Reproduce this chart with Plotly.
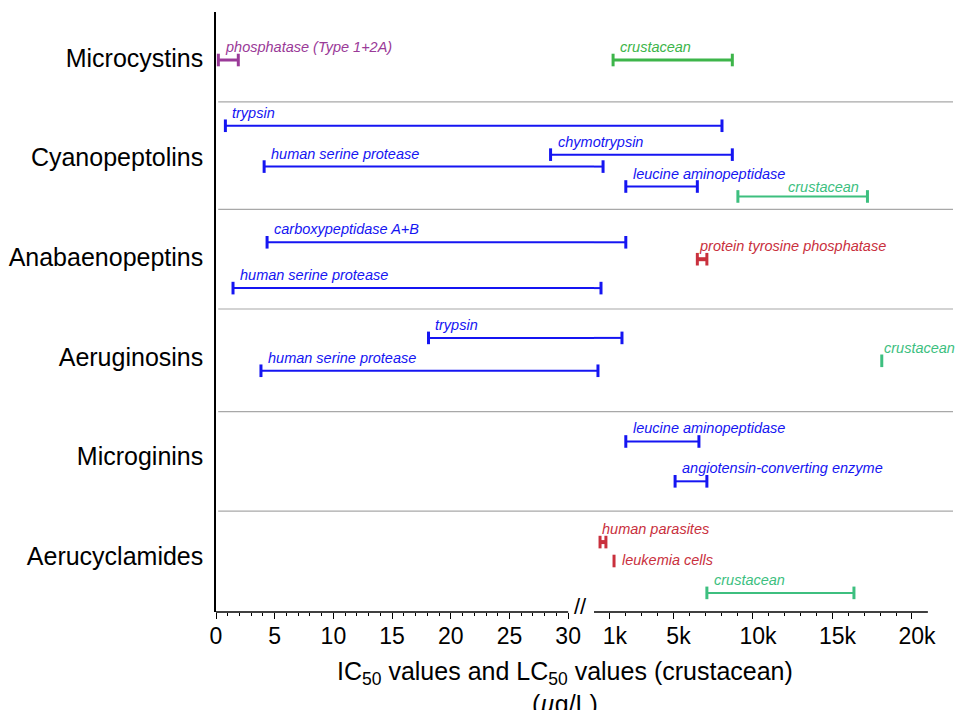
import plotly.graph_objects as go

# ---------------- data ----------------
rows = ["Microcystins", "Cyanopeptolins", "Anabaenopeptins",
        "Aeruginosins", "Microginins", "Aerucyclamides"]

bar_row = ["Microcystins", "Microcystins",
           "Cyanopeptolins", "Cyanopeptolins", "Cyanopeptolins", "Cyanopeptolins", "Cyanopeptolins",
           "Anabaenopeptins", "Anabaenopeptins", "Anabaenopeptins",
           "Aeruginosins", "Aeruginosins", "Aeruginosins",
           "Microginins", "Microginins",
           "Aerucyclamides", "Aerucyclamides", "Aerucyclamides"]
bar_target = ["phosphatase (Type 1+2A)", "crustacean",
              "trypsin", "chymotrypsin", "human serine protease", "leucine aminopeptidase", "crustacean",
              "carboxypeptidase A+B", "protein tyrosine phosphatase", "human serine protease",
              "trypsin", "human serine protease", "crustacean",
              "leucine aminopeptidase", "angiotensin-converting enzyme",
              "human parasites", "leukemia cells", "crustacean"]
# IC50 / LC50 ranges in µg/L
bar_low = [0.2, 1200,
           0.8, 28.5, 4.1, 2000, 9050,
           4.35, 6500, 1.45,
           18.1, 3.83, 18100,
           2000, 5100,
           380, 1260, 7100]
bar_high = [1.9, 8700,
            8050, 8700, 570, 6500, 17200,
            2000, 7100, 440,
            1760, 250, 18100,
            6600, 7100,
            750, 1260, 16350]
bar_kind = ["phosphatase", "crustacean_mc",
            "enzyme", "enzyme", "enzyme", "enzyme", "crustacean",
            "enzyme", "cells", "enzyme",
            "enzyme", "enzyme", "crustacean",
            "enzyme", "enzyme",
            "cells", "cells", "crustacean"]

left_ticks = [0, 5, 10, 15, 20, 25, 30]
right_ticks = [1000, 5000, 10000, 15000, 20000]
right_ticktext = ["1k", "5k", "10k", "15k", "20k"]

# ---------------- layout / style ----------------
lane_offsets = [0.02, 0.02,
                -0.32, -0.03, 0.09, 0.29, 0.39,
                -0.15, 0.02, 0.31,
                -0.19, 0.14, 0.04,
                -0.15, 0.25,
                -0.14, 0.05, 0.37]
label_mode = ["start", "start",
              "start", "start", "start", "start", "end",
              "start", "start0", "start",
              "start", "start", "start0",
              "start", "start",
              "start0", "right", "start"]
separators = [0.44, 1.52, 2.52, 3.55, 4.55]

colors = {"phosphatase": "#9A3A98", "crustacean_mc": "#3DB54A",
          "crustacean": "#3DBF7F", "enzyme": "#1515F2", "cells": "#C9303D"}
widths = {"phosphatase": 3, "crustacean_mc": 3, "crustacean": 2,
          "enzyme": 2, "cells": 4}

LEFT_MAX = 32.2      # left axis range end (break gap)
BREAK = 30           # values above this go to right axis
RIGHT_MAX = 22580
FONT = "Liberation Sans"

fig = go.Figure()


def axis_of(v):
    return "x" if v <= BREAK else "x2"


annotations = []
for i in range(len(bar_target)):
    lo, hi = bar_low[i], bar_high[i]
    kind = bar_kind[i]
    col = colors[kind]
    y = rows.index(bar_row[i]) + lane_offsets[i]
    parts = []
    if hi <= BREAK:
        parts.append(("x", lo, hi))
    elif lo > BREAK:
        parts.append(("x2", lo, hi))
    else:
        parts.append(("x", lo, LEFT_MAX))
        parts.append(("x2", 0, hi))
    for ax, a, b in parts:
        if a != b:
            fig.add_trace(go.Scatter(x=[a, b], y=[y, y], mode="lines", xaxis=ax, yaxis="y",
                                     line=dict(color=col, width=widths[kind]),
                                     showlegend=False, hoverinfo="skip"))
    for v in ([lo] if lo == hi else [lo, hi]):
        fig.add_trace(go.Scatter(x=[v], y=[y], mode="markers", xaxis=axis_of(v), yaxis="y",
                                 marker=dict(symbol="line-ns", size=9,
                                             line=dict(color=col, width=3)),
                                 showlegend=False, hoverinfo="skip"))
    mode = label_mode[i]
    ann = dict(text=bar_target[i], yref="y", y=y, showarrow=False,
               font=dict(family=FONT, size=14.5, color=col, style="italic"))
    if mode in ("start", "start0"):
        ann.update(x=lo, xref=axis_of(lo), xanchor="left", yanchor="middle",
                   xshift=5 if mode == "start" else 0, yshift=13)
    elif mode == "end":
        ann.update(x=hi, xref=axis_of(hi), xanchor="right", yanchor="middle",
                   xshift=-6, yshift=9)
    else:
        ann.update(x=hi, xref=axis_of(hi), xanchor="left", yanchor="middle",
                   xshift=6, yshift=1)
    annotations.append(ann)

# axis title and break mark
annotations.append(dict(text="IC<sub>50</sub> values and LC<sub>50</sub> values (crustacean)<br>(<i>µ</i>g/L)",
                        xref="paper", yref="paper", x=0.4735, y=0, xanchor="center", yanchor="top",
                        yshift=-43, showarrow=False, font=dict(family=FONT, size=25, color="black")))
annotations.append(dict(text="//", xref="paper", yref="paper", x=0.4939, y=0, xanchor="center",
                        yanchor="middle", yshift=6, showarrow=False,
                        font=dict(family=FONT, size=22, color="black")))

shapes = []
for s in separators:
    shapes.append(dict(type="line", xref="paper", yref="y", x0=0.003, x1=1, y0=s, y1=s,
                       line=dict(color="#A8A8A8", width=1.2)))
shapes.append(dict(type="line", xref="x", yref="paper", x0=0, x1=BREAK, y0=0, y1=0,
                   line=dict(color="black", width=1.5)))
shapes.append(dict(type="line", xref="x2", yref="paper", x0=0, x1=21000, y0=0, y1=0,
                   line=dict(color="black", width=1.5)))

split = 378 / 737
fig.update_layout(
    width=955, height=710,
    margin=dict(l=216, r=2, t=12, b=98, autoexpand=False),
    paper_bgcolor="white", plot_bgcolor="white",
    font=dict(family=FONT, color="black"),
    xaxis=dict(domain=[0, split], range=[0, LEFT_MAX], anchor="y", automargin=False,
               showgrid=False, zeroline=False, showline=False,
               tickmode="array", tickvals=left_ticks, ticks="outside", ticklen=6,
               tickwidth=1.3, tickcolor="black", tickfont=dict(size=23, family=FONT),
               ticklabelstandoff=-3,
               minor=dict(tickmode="array", tickvals=list(range(0, 31)), ticks="outside",
                          ticklen=3, tickwidth=1.1, tickcolor="black")),
    xaxis2=dict(domain=[split, 1], range=[0, RIGHT_MAX], anchor="y", automargin=False,
                showgrid=False, zeroline=False, showline=False,
                tickmode="array", tickvals=right_ticks, ticktext=right_ticktext,
                ticks="outside", ticklen=6, tickwidth=1.3, tickcolor="black",
                tickfont=dict(size=23, family=FONT), ticklabelstandoff=-3, ticklabelshift=5,
                minor=dict(tickmode="array", tickvals=list(range(1000, 20001, 1000)),
                           ticks="outside", ticklen=3, tickwidth=1.1, tickcolor="black")),
    yaxis=dict(range=[5.562, -0.462], anchor="x", showgrid=False, zeroline=False,
               automargin=False, showline=True, linecolor="black", linewidth=1.5,
               tickmode="array", tickvals=list(range(len(rows))), ticktext=rows,
               ticks="", ticklabelstandoff=6, tickfont=dict(size=25, family=FONT)),
    annotations=annotations,
    shapes=shapes,
)

fig.write_html("out.html", config={"displayModeBar": False},
               post_script="document.body.style.margin='0';document.body.style.overflow='hidden';")
